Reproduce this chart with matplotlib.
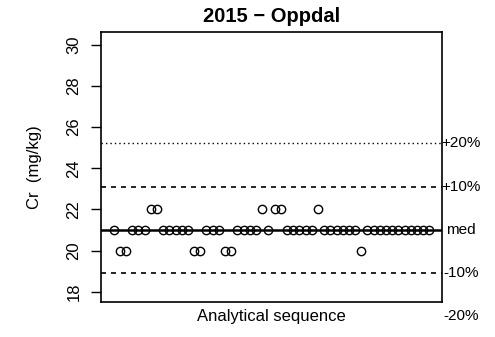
import matplotlib
matplotlib.use("Agg")
import matplotlib.pyplot as plt
import numpy as np

plt.rcParams['font.family'] = ['Liberation Sans', 'DejaVu Sans']

# Cr results in analytical order (mg/kg)
cr_values = [21, 20, 20, 21, 21, 21, 22, 22, 21, 21, 21, 21, 21,
             20, 20, 21, 21, 21, 20, 20, 21, 21, 21, 21, 22, 21,
             22, 22, 21, 21, 21, 21, 21, 22, 21, 21, 21, 21, 21,
             21, 20, 21, 21, 21, 21, 21, 21, 21, 21, 21, 21, 21]
yticks = [18, 20, 22, 24, 26, 28, 30]
band_pct = [-20, -10, 10, 20]
band_labels = ["-20%", "-10%", "+10%", "+20%"]

seq = np.arange(1, len(cr_values) + 1)
med = np.median(cr_values)

fig = plt.figure(figsize=(4.95, 3.37), dpi=100)
ax = fig.add_axes([0.204, 0.105, 0.689, 0.801])

ax.plot(seq, cr_values, 'o', mfc='none', mec='black', ms=6, mew=1.0, zorder=3)
ax.axhline(med, color='black', lw=1.8, zorder=2)
for p, lab in zip(band_pct, band_labels):
    y = med * (1 + p / 100)
    if abs(p) == 10:
        ax.axhline(y, color='black', lw=1.2, linestyle=(0, (3, 3)))
    else:
        ax.axhline(y, color='black', lw=1.0, linestyle=(0, (1, 2.2)))
    ax.text(1.055, y, lab, transform=ax.get_yaxis_transform(), ha='center',
            va='center', fontsize=11, clip_on=False)
ax.text(1.055, med, "med", transform=ax.get_yaxis_transform(), ha='center',
        va='center', fontsize=11, clip_on=False)

n = len(cr_values)
pad = 0.04 * (n - 1)
ax.set_xlim(1 - pad, n + pad)
ax.set_ylim(17.52, 30.63)
ax.set_xticks([])
ax.set_yticks(yticks)
ax.set_yticklabels([str(t) for t in yticks], rotation=90, va='center', fontsize=12)
ax.tick_params(axis='y', length=7, width=1.0, pad=7)
for s in ax.spines.values():
    s.set_linewidth(1.2)

ax.set_ylabel("Cr  (mg/kg)", fontsize=12, labelpad=18)
ax.set_xlabel("Analytical sequence", fontsize=12, labelpad=5)
ax.set_title("2015 \u2212 Oppdal", fontsize=14.5, fontweight='bold', pad=7)

fig.savefig("out.png", dpi=100)
